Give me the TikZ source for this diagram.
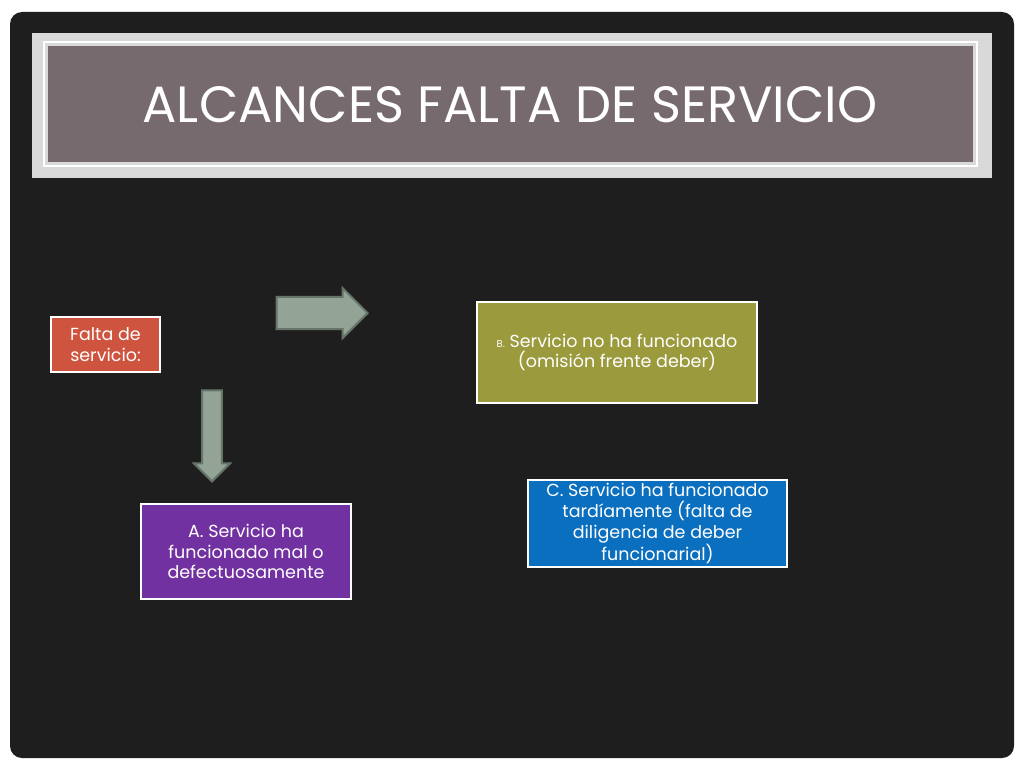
\documentclass[tikz,border=0pt]{standalone}
\usepackage{fontspec}
\setmainfont{Poppins}
\usetikzlibrary{shapes.arrows}
\definecolor{bgdark}{HTML}{1E1E1E}
\definecolor{bandgray}{HTML}{D9D9D9}
\definecolor{mauve}{HTML}{766A6F}
\definecolor{redbox}{HTML}{CF543F}
\definecolor{olivebox}{HTML}{9B9A3D}
\definecolor{bluebox}{HTML}{0B6FC0}
\definecolor{purplebox}{HTML}{7231A0}
\definecolor{arrowfill}{HTML}{93A396}
\definecolor{arrowline}{HTML}{66756A}
\tikzset{
  box/.style={draw=white, line width=2pt, text=white, align=center, inner sep=0pt,
    font=\fontsize{17.5}{20.7}\selectfont},
  blockarrow/.style={single arrow, draw=arrowline, fill=arrowfill, line width=2pt,
    single arrow tip angle=90, inner sep=0pt, outer sep=0pt}
}
\begin{document}
\begin{tikzpicture}[x=1pt,y=-1pt]
\useasboundingbox (0,0) rectangle (1024,768);
\fill[white] (0,0) rectangle (1024,768);
% slide background
\fill[bgdark, rounded corners=12pt] (10,12) rectangle (1014,758);
% title band
\fill[bandgray] (32,33) rectangle (992,178);
\draw[white, line width=2pt] (44,42) rectangle (977,166);
\fill[mauve] (48,46) rectangle (973,162);
\node[text=white, font=\fontsize{51}{55}\selectfont, anchor=center] (title) at (510,105) {ALCANCES FALTA DE SERVICIO};
% boxes
\node[box, fill=redbox, minimum width=109pt, minimum height=55pt] (falta) at (105.5,344.5)
  {Falta de\\servicio:};
\node[box, fill=olivebox, minimum width=280pt, minimum height=101pt] (bbox) at (617,352.5)
  {{\fontsize{10}{12}\selectfont B.} Servicio no ha funcionado\\(omisión frente deber)};
\node[box, fill=bluebox, minimum width=259pt, minimum height=87pt] (cbox) at (657.5,523.5)
  {C. Servicio ha funcionado\\tardíamente (falta de\\diligencia de deber\\funcionarial)};
\node[box, fill=purplebox, minimum width=210pt, minimum height=95pt] (abox) at (246,551.5)
  {A. Servicio ha\\funcionado mal o\\defectuosamente};
% block arrows
\node[blockarrow, minimum height=91pt, minimum width=50pt, text height=24pt, text depth=0pt, text width=0pt] (rarrow) at (314,313) {};
\node[blockarrow, shape border rotate=270, minimum height=91pt, minimum width=36pt, text width=15pt, text height=0pt, text depth=0pt] (darrow) at (212,431) {};
\end{tikzpicture}
\end{document}
